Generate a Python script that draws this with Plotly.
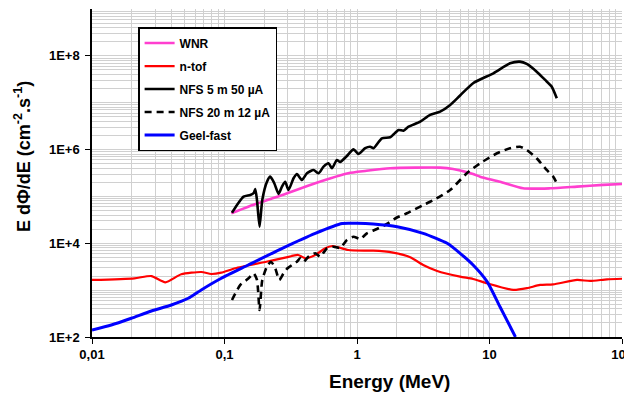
import plotly.graph_objects as go

# ---------------- data ----------------
wnr_E = [0.1125, 0.151, 0.273, 0.484, 0.858, 1.153, 1.78, 4.24, 5.31, 7.52, 8.49, 12.0, 17.9, 28.6, 45.8, 71.9, 100]
wnr_F = [4.37e4, 6.04e4, 1.07e5, 1.91e5, 3.12e5, 3.49e5, 3.99e5, 4.11e5, 3.85e5, 3.01e5, 2.64e5, 2.06e5, 1.49e5, 1.49e5, 1.62e5, 1.76e5, 1.84e5]

ntof_E = [0.01, 0.0209, 0.0281, 0.0358, 0.0472, 0.0668, 0.0795, 0.0946, 0.1206, 0.203, 0.287, 0.360, 0.407,
          0.484, 0.576, 0.650, 0.721, 0.858, 1.153, 1.325, 1.875, 2.52, 3.16, 4.03, 6.00, 7.52, 9.59, 15.1,
          19.2, 24.1, 30.2, 45.8, 57.4, 77.1, 100]
ntof_F = [1.65e3, 1.79e3, 2.00e3, 1.47e3, 2.18e3, 2.44e3, 2.21e3, 2.36e3, 2.93e3, 3.99e3, 4.93e3, 5.63e3, 4.78e3,
          5.63e3, 7.82e3, 8.76e3, 8.21e3, 7.19e3, 6.95e3, 6.95e3, 6.30e3, 5.03e3, 3.44e3, 2.56e3, 1.94e3, 1.73e3, 1.40e3, 1.01e3,
          1.10e3, 1.29e3, 1.33e3, 1.65e3, 1.57e3, 1.70e3, 1.75e3]

nfs5_E = [0.1139, 0.1243, 0.1393, 0.1565, 0.1658, 0.1707, 0.1758, 0.1839, 0.1928, 0.2092, 0.2215, 0.2375, 0.256,
          0.2715, 0.287, 0.304, 0.332, 0.352, 0.384, 0.419, 0.470, 0.513, 0.559, 0.610, 0.647, 0.705, 0.747,
          0.839, 0.941, 1.026, 1.153, 1.257, 1.332, 1.541, 1.78, 2.06, 2.24, 2.45, 3.00, 3.56, 4.24, 5.05,
          6.00, 7.56, 10.7, 14.3, 17.0, 19.1, 22.7, 26.3, 29.5, 32.2]
nfs5_F = [4.50e4, 6.57e4, 9.88e4, 1.07e5, 1.17e5, 1.44e5, 8.40e4, 2.26e4, 8.40e4, 2.06e5, 2.64e5, 1.91e5, 1.13e5,
          1.62e5, 2.06e5, 1.37e5, 2.44e5, 3.01e5, 2.24e5, 3.12e5, 3.67e5, 3.12e5, 4.32e5, 5.10e5, 3.99e5, 6.00e5, 5.44e5,
          7.30e5, 1.01e6, 8.05e5, 1.07e6, 1.15e6, 1.07e6, 1.74e6, 1.83e6, 2.62e6, 2.53e6, 3.08e6, 3.94e6, 5.48e6, 6.44e6, 8.95e6,
          1.43e7, 2.64e7, 4.25e7, 6.95e7, 7.52e7, 6.72e7, 4.60e7, 3.06e7, 2.20e7, 1.24e7]

nfs20_E = [0.1139, 0.1316, 0.152, 0.1658, 0.1758, 0.1839, 0.1928, 0.2092, 0.2242, 0.2416, 0.259, 0.279, 0.299,
           0.323, 0.352, 0.373, 0.395, 0.431, 0.484, 0.528, 0.593, 0.665, 0.747, 0.839, 0.941, 1.057, 1.188,
           1.413, 1.68, 2.00, 2.38, 3.17, 3.78, 5.05, 6.74, 8.49, 11.4, 14.3, 17.0, 19.1, 22.7, 27.0, 30.3, 32.2]
nfs20_F = [6.16e2, 1.29e3, 1.79e3, 2.29e3, 1.65e3, 3.77e2, 1.65e3, 3.17e3, 4.05e3, 2.93e3, 1.65e3, 2.29e3, 2.93e3,
           3.44e3, 4.05e3, 4.78e3, 4.05e3, 5.18e3, 6.12e3, 5.18e3, 7.82e3, 8.46e3, 7.94e3, 1.18e4, 1.38e4, 1.24e4, 1.63e4,
           2.02e4, 2.58e4, 3.55e4, 4.37e4, 6.57e4, 8.40e4, 1.37e5, 3.12e5, 5.10e5, 8.34e5, 1.07e6, 1.15e6, 9.80e5, 6.52e5, 3.67e5, 2.64e5, 1.91e5]

geel_E = [0.01, 0.0140, 0.0198, 0.0281, 0.0397, 0.0533, 0.0668, 0.0946, 0.151, 0.273, 0.484, 0.773, 1.0,
          1.325, 2.01, 3.16, 4.79, 6.00, 7.52, 9.59, 12.0, 15.7]
geel_F = [1.41e2, 1.80e2, 2.51e2, 3.59e2, 4.82e2, 6.70e2, 1.01e3, 1.79e3, 3.44e3, 7.82e3, 1.63e4, 2.65e4, 2.67e4,
          2.58e4, 2.26e4, 1.63e4, 1.00e4, 6.12e3, 3.44e3, 1.52e3, 4.43e2, 1.00e2]

x_tickvals = [0.01, 0.1, 1, 10, 100]
x_ticktext = ["0,01", "0,1", "1", "10", "100"]
y_tickvals = [1e2, 1e4, 1e6, 1e8]
y_ticktext = ["1E+2", "1E+4", "1E+6", "1E+8"]

# ---------------- figure ----------------
FONT = "Liberation Sans, Arial, sans-serif"
fig = go.Figure()

series = [
    ("WNR", wnr_E, wnr_F, "#FF3FCF", "solid", 2.6),
    ("n-tof", ntof_E, ntof_F, "#FF0000", "solid", 2.2),
    ("NFS 5 m 50 µA", nfs5_E, nfs5_F, "#000000", "solid", 2.6),
    ("NFS 20 m 12 µA", nfs20_E, nfs20_F, "#000000", "dash", 2.6),
    ("Geel-fast", geel_E, geel_F, "#0000FF", "solid", 3.0),
]
for i, (name, xs, ys, col, dash, w) in enumerate(series):
    fig.add_trace(go.Scatter(
        x=xs, y=ys, mode="lines", name=name, legendgroup=f"g{i}",
        line=dict(color=col, width=w, dash=("7px,5px" if dash == "dash" else "solid"),
                  shape="spline", smoothing=0.6),
    ))

grid_col = "#d0d0d0"
x_minor = [m * 10 ** e for e in range(-2, 2) for m in range(2, 10)]
y_minor = [m * 10 ** e for e in range(2, 9) for m in range(1, 10) if not (m == 1 and e % 2 == 0)] + [1e9]

fig.update_xaxes(
    type="log", range=[-2, 2],
    tickmode="array", tickvals=x_tickvals, ticktext=x_ticktext,
    ticks="outside", ticklen=5, tickcolor="black", tickwidth=1,
    showline=True, linecolor="black", linewidth=1.5,
    showgrid=True, gridcolor=grid_col, gridwidth=1,
    minor=dict(tickmode="array", tickvals=x_minor, showgrid=True, gridcolor=grid_col, gridwidth=1, ticks=""),
    tickfont=dict(family=FONT, size=13, color="black", weight="bold"),
)
fig.update_yaxes(
    type="log", range=[2, 9],
    tickmode="array", tickvals=y_tickvals, ticktext=y_ticktext,
    ticks="outside", ticklen=5, tickcolor="black", tickwidth=1,
    showline=True, linecolor="black", linewidth=1.5,
    showgrid=True, gridcolor=grid_col, gridwidth=1,
    minor=dict(tickmode="array", tickvals=y_minor, showgrid=True, gridcolor=grid_col, gridwidth=1, ticks=""),
    tickfont=dict(family=FONT, size=13, color="black", weight="bold"),
    ticklabelstandoff=3,
)

fig.add_annotation(
    text="Energy (MeV)", xref="paper", yref="paper", x=0.562, y=-0.137,
    xanchor="center", yanchor="middle", showarrow=False,
    font=dict(family=FONT, size=19, color="black", weight="bold"),
)
fig.add_annotation(
    text="E dΦ/dE (cm<sup>-2</sup>.s<sup>-1</sup>)", xref="paper", yref="paper", x=-0.130, y=0.549,
    xanchor="center", yanchor="middle", textangle=-90, showarrow=False,
    font=dict(family=FONT, size=18, color="black", weight="bold"),
)

# the page body adds an 8px offset, so the margins are shifted to compensate
fig.update_layout(
    width=632, height=394,
    margin=dict(l=84, r=18, t=1, b=65),
    paper_bgcolor="white", plot_bgcolor="white",
    showlegend=True,
    legend=dict(
        x=0.087, y=0.945, xanchor="left", yanchor="top",
        bgcolor="white", bordercolor="black", borderwidth=1.5,
        font=dict(family=FONT, size=12, color="black", weight="bold"),
        tracegroupgap=4, itemwidth=30,
    ),
)

fig.write_html("out.html")
